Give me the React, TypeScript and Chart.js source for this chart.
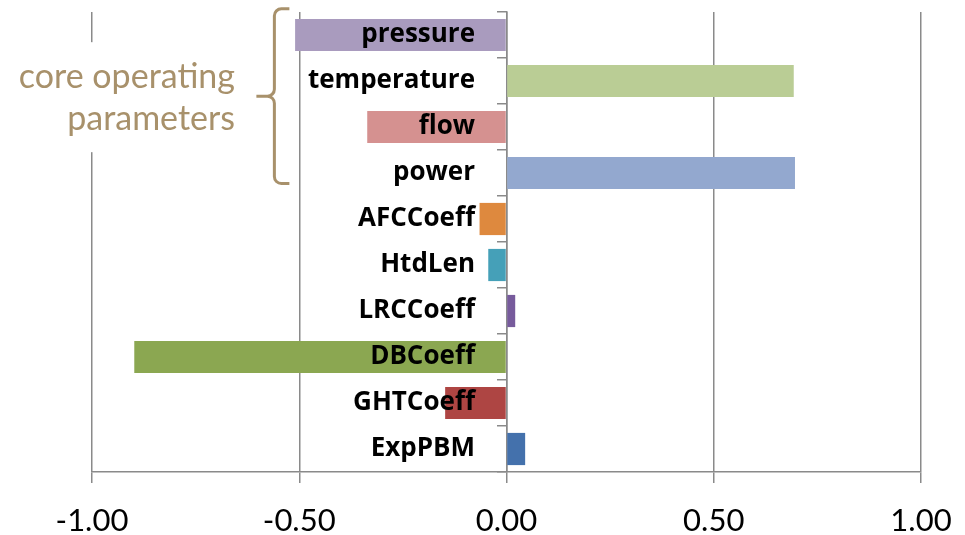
import React, { useEffect, useRef } from "react";
import { Chart, registerables } from "chart.js";

Chart.register(...registerables);

// Sensitivity of each input, top to bottom
const categories = [
  "pressure",
  "temperature",
  "flow",
  "power",
  "AFCCoeff",
  "HtdLen",
  "LRCCoeff",
  "DBCoeff",
  "GHTCoeff",
  "ExpPBM",
];
const values = [-0.51, 0.693, -0.336, 0.696, -0.065, -0.044, 0.021, -0.898, -0.148, 0.045];
const barColors = [
  "#A99BBE",
  "#BACD95",
  "#D59190",
  "#93A8CF",
  "#DE893E",
  "#45A0B8",
  "#775B9C",
  "#8BA751",
  "#AE4543",
  "#4471AC",
];
const xTickValues = [-1, -0.5, 0, 0.5, 1];

// Bracketed group of the first four inputs
const groupLines = ["core operating", "parameters"];
const groupFirstIndex = 0;
const groupLastIndex = 3;

const GRID = "#8a8a8a";
const TAN = "#A8916B";

const groupBrace = {
  id: "groupBrace",
  afterDraw(chart: any) {
    const { ctx } = chart;
    const xs = chart.scales.x;
    const ys = chart.scales.y;
    const step = ys.getPixelForValue(1) - ys.getPixelForValue(0);
    const top = ys.getPixelForValue(groupFirstIndex) - 0.57 * step;
    const bottom = ys.getPixelForValue(groupLastIndex) + 0.23 * step;
    const mid = (top + bottom) / 2;
    const spine = xs.getPixelForValue(-0.56);
    const r = 7;

    ctx.save();
    ctx.strokeStyle = TAN;
    ctx.lineWidth = 3;
    ctx.lineJoin = "round";
    ctx.beginPath();
    ctx.moveTo(spine + 15, top);
    ctx.arcTo(spine, top, spine, mid, r);
    ctx.arcTo(spine, mid, spine - 18, mid, r);
    ctx.lineTo(spine - 18, mid);
    ctx.moveTo(spine - 18, mid);
    ctx.arcTo(spine, mid, spine, bottom, r);
    ctx.arcTo(spine, bottom, spine + 15, bottom, r);
    ctx.lineTo(spine + 15, bottom);
    ctx.stroke();

    // label block, with a white backing over the grid line
    const textRight = xs.getPixelForValue(-0.655);
    ctx.fillStyle = "#ffffff";
    ctx.fillRect(textRight - 228, mid - 54, 231, 110);
    ctx.fillStyle = TAN;
    ctx.font = "34px Lato";
    ctx.textAlign = "right";
    ctx.textBaseline = "middle";
    ctx.fillText(groupLines[0], textRight, mid - 19);
    ctx.fillText(groupLines[1], textRight, mid + 23);
    ctx.restore();
  },
};

export default function App() {
  const canvasRef = useRef<HTMLCanvasElement | null>(null);

  useEffect(() => {
    const canvas = canvasRef.current;
    if (!canvas) return;
    const zeroPad = (s: any) => {
      s.paddingTop = 0;
      s.paddingBottom = 0;
    };
    const chart = new Chart(canvas, {
      type: "bar",
      data: {
        labels: categories,
        datasets: [
          {
            data: values,
            backgroundColor: barColors,
            borderWidth: 0,
            barPercentage: 0.7,
            categoryPercentage: 1,
            yAxisID: "y",
          },
        ],
      },
      options: {
        animation: false,
        responsive: false,
        indexAxis: "y",
        layout: { padding: { left: 92, right: 44, top: 12, bottom: 0 } },
        plugins: {
          legend: { display: false },
          tooltip: { enabled: false },
        },
        scales: {
          x: {
            type: "linear",
            min: -1,
            max: 1,
            afterBuildTicks: (s: any) => {
              s.ticks = xTickValues.map((v) => ({ value: v }));
            },
            afterFit: (s: any) => {
              s.paddingLeft = 0;
              s.paddingRight = 0;
              s.height = 63;
            },
            ticks: {
              color: "#000000",
              font: { family: "Lato", size: 31, lineHeight: 1 },
              padding: 22,
              maxRotation: 0,
              callback: (v: any) => Number(v).toFixed(2),
            },
            grid: { color: GRID, lineWidth: 1.5, tickLength: 11 },
            border: { color: GRID, width: 1.5 },
          },
          y: {
            type: "category",
            position: { x: 0 },
            offset: true,
            afterFit: zeroPad,
            ticks: { display: false },
            grid: {
              drawOnChartArea: false,
              offset: true,
              color: GRID,
              lineWidth: 1.5,
              tickLength: 9,
            },
            border: { color: GRID, width: 1.5 },
          },
          yLabels: {
            type: "category",
            axis: "y",
            position: { x: -0.076 },
            offset: true,
            afterFit: zeroPad,
            ticks: {
              z: 1,
              color: "#000000",
              font: { family: "Open Sans", weight: "bold", size: 26, lineHeight: 1 },
              padding: 0,
            },
            grid: { display: false, drawTicks: false },
            border: { display: false },
          },
        },
      } as any,
      plugins: [groupBrace],
    });
    return () => chart.destroy();
  }, []);

  return (
    <div style={{ position: "absolute", left: 0, top: 0, width: 965, height: 535, background: "#ffffff" }}>
      <canvas ref={canvasRef} width={965} height={535} />
    </div>
  );
}
